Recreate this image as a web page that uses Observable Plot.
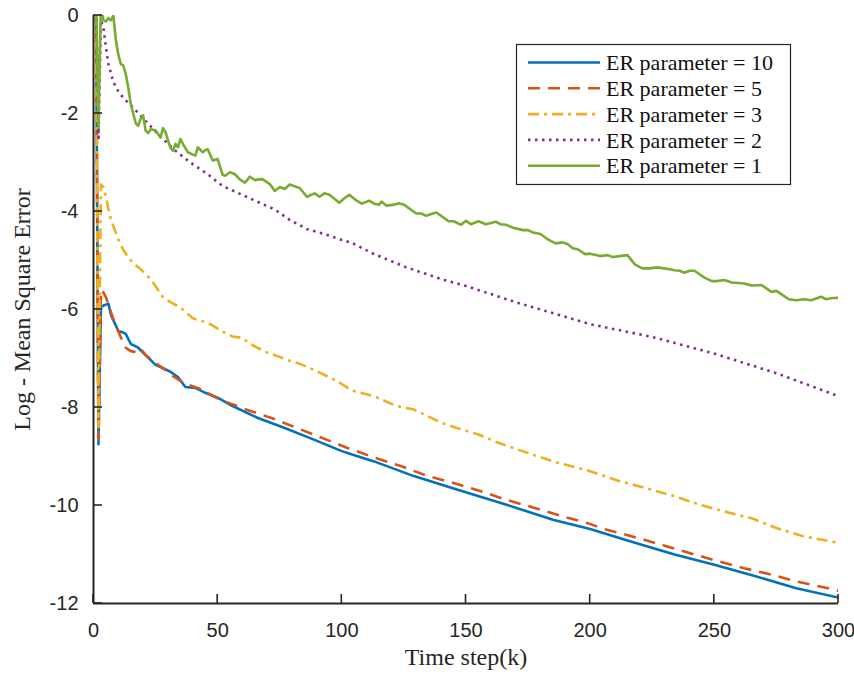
<!DOCTYPE html>
<html>
<head>
<meta charset="utf-8">
<script src="https://cdn.jsdelivr.net/npm/d3@7"></script>
<script src="https://cdn.jsdelivr.net/npm/@observablehq/plot@0.6"></script>
<style>
  html, body { margin: 0; padding: 0; background: #fff; }
  #chart { width: 854px; height: 677px; }
</style>
</head>
<body>
<div id="chart"></div>
<script>
// ---------- data ----------
const xTicks = [0, 50, 100, 150, 200, 250, 300];
const yTicks = [-12, -10, -8, -6, -4, -2, 0];
const seriesNames = ["ER parameter = 10", "ER parameter = 5", "ER parameter = 3", "ER parameter = 2", "ER parameter = 1"];
const seriesColors = ["#0072BD", "#D95319", "#EDB120", "#7E2F8E", "#77AC30"];

const er10_k = [1, 2, 3, 4, 5, 6, 7, 8, 10, 12, 13, 15, 18, 21, 25, 28, 31, 34, 37, 41, 45, 50, 56, 66, 77, 88, 100, 106, 113, 129, 146, 166, 185, 200, 216, 234, 250, 267, 283, 300];
const er10_v = [0.5, -8.75, -5.95, -5.92, -5.9, -5.88, -6.1, -6.22, -6.44, -6.47, -6.5, -6.7, -6.78, -6.93, -7.13, -7.2, -7.27, -7.38, -7.58, -7.6, -7.7, -7.8, -7.97, -8.21, -8.42, -8.64, -8.89, -8.99, -9.1, -9.4, -9.67, -9.98, -10.29, -10.48, -10.73, -11.0, -11.21, -11.45, -11.69, -11.88];

const er5_k = [1, 2, 3, 4, 5, 6, 7, 8, 10, 12, 13, 15, 17, 19, 21, 24, 28, 32, 37, 42, 51, 62, 72, 82, 92, 102, 113, 124, 134, 145, 156, 166, 177, 188, 199, 205, 219, 230, 240, 251, 262, 273, 283, 294, 300];
const er5_v = [0.5, -8.65, -5.6, -5.65, -5.75, -5.9, -6.05, -6.2, -6.45, -6.68, -6.78, -6.85, -6.87, -6.8, -6.93, -7.05, -7.2, -7.36, -7.52, -7.6, -7.84, -8.05, -8.22, -8.42, -8.62, -8.82, -9.02, -9.2, -9.39, -9.54, -9.71, -9.88, -10.04, -10.21, -10.36, -10.47, -10.66, -10.82, -10.97, -11.13, -11.28, -11.41, -11.55, -11.67, -11.74];

const er3_k = [1, 2, 3, 4, 5, 6, 7, 8, 10, 12, 14, 16, 19, 22, 24, 26, 28, 31, 35, 40, 44, 47, 52, 56, 60, 63, 66, 70, 74, 78, 82, 86, 90, 98, 104, 113, 122, 129, 140, 147, 155, 163, 175, 185, 200, 211, 222, 234, 244, 256, 265, 275, 286, 300];
const er3_v = [0.5, -8.4, -3.45, -3.5, -3.7, -3.95, -4.15, -4.3, -4.57, -4.78, -4.94, -5.05, -5.18, -5.33, -5.45, -5.6, -5.75, -5.85, -5.96, -6.18, -6.24, -6.3, -6.45, -6.55, -6.58, -6.7, -6.78, -6.88, -6.95, -7.03, -7.09, -7.17, -7.26, -7.46, -7.65, -7.77, -7.97, -8.04, -8.31, -8.43, -8.55, -8.72, -8.93, -9.1, -9.3, -9.49, -9.64, -9.81, -9.98, -10.15, -10.26, -10.46, -10.63, -10.76];

const er2_k = [1, 2, 3, 4, 5, 6, 8, 10, 12, 16, 20, 26, 32, 39, 46, 52, 59, 66, 73, 79, 86, 93, 100, 104, 113, 126, 140, 150, 170, 200, 225, 250, 275, 300];
const er2_v = [0.5, -2.5, -0.1, -0.25, -0.65, -0.99, -1.36, -1.55, -1.68, -1.88, -2.1, -2.42, -2.72, -3.0, -3.24, -3.48, -3.64, -3.8, -3.96, -4.17, -4.36, -4.46, -4.58, -4.64, -4.87, -5.14, -5.38, -5.52, -5.85, -6.3, -6.56, -6.9, -7.3, -7.77];

const er1_k = [1, 2, 3, 4, 5, 6, 7, 8, 9, 10, 11, 12, 13, 14, 15, 16, 17, 18, 19, 20, 21, 22, 23, 24, 25, 26, 27, 28, 29, 30, 31, 32, 33, 34, 35, 36, 38, 40, 41, 42, 43, 44, 45, 46, 48, 50, 52, 53, 55, 57, 59, 61, 63, 65, 66, 68, 71, 73, 75, 77, 79, 83, 86, 89, 91, 93, 95, 99, 101, 103, 106, 108, 111, 113, 115, 116, 118, 121, 123, 125, 128, 130, 132, 134, 136, 138, 140, 143, 145, 148, 150, 152, 155, 158, 162, 164, 166, 169, 173, 175, 177, 180, 183, 186, 189, 191, 193, 195, 198, 200, 204, 207, 209, 212, 215, 218, 221, 224, 227, 232, 234, 236, 238, 240, 242, 246, 249, 251, 254, 257, 262, 265, 269, 273, 275, 280, 283, 286, 289, 293, 295, 297, 300];
const er1_v = [0.5, -2.3, 0.3, -0.1, -0.12, -0.05, -0.1, 0.0, -0.5, -0.8, -0.99, -1.02, -1.2, -1.47, -1.8, -2.0, -2.2, -2.25, -2.1, -2.04, -2.35, -2.4, -2.32, -2.33, -2.34, -2.42, -2.49, -2.3, -2.38, -2.55, -2.7, -2.76, -2.62, -2.69, -2.52, -2.62, -2.79, -2.84, -2.86, -2.69, -2.74, -2.79, -2.75, -2.73, -2.96, -2.93, -3.25, -3.27, -3.2, -3.24, -3.35, -3.41, -3.29, -3.36, -3.35, -3.34, -3.44, -3.58, -3.5, -3.54, -3.45, -3.52, -3.7, -3.63, -3.7, -3.63, -3.66, -3.82, -3.73, -3.66, -3.78, -3.84, -3.78, -3.84, -3.86, -3.8, -3.88, -3.86, -3.83, -3.86, -3.97, -4.04, -4.04, -4.09, -4.05, -4.02, -4.09, -4.2, -4.2, -4.27, -4.19, -4.26, -4.2, -4.26, -4.21, -4.26, -4.27, -4.33, -4.38, -4.38, -4.43, -4.46, -4.57, -4.65, -4.63, -4.67, -4.75, -4.77, -4.87, -4.86, -4.91, -4.89, -4.93, -4.91, -4.89, -5.08, -5.16, -5.16, -5.14, -5.18, -5.2, -5.21, -5.25, -5.21, -5.21, -5.35, -5.42, -5.42, -5.4, -5.45, -5.47, -5.51, -5.5, -5.64, -5.62, -5.79, -5.81, -5.79, -5.81, -5.74, -5.79, -5.77, -5.76];

// ---------- build ----------
const toRows = (ks, vs) => ks.map((k, i) => ({k, v: vs[i]}));
const rows = [toRows(er10_k, er10_v), toRows(er5_k, er5_v), toRows(er3_k, er3_v), toRows(er2_k, er2_v), toRows(er1_k, er1_v)];
const dashes = [null, "12,8", "11,5,3,5", "2.5,4.5", null];
const axisColor = "#262626";
const serif = "'Liberation Serif', 'DejaVu Serif', serif";

const lineMarks = rows.map((r, i) => Plot.line(r, {
  x: "k", y: "v", stroke: seriesColors[i], strokeWidth: 2.6,
  strokeDasharray: dashes[i], strokeLinejoin: "round", strokeLinecap: dashes[i] ? "butt" : "round",
  clip: true
}));

const svg = Plot.plot({
  width: 854,
  height: 677,
  marginLeft: 93,
  marginRight: 16,
  marginTop: 15,
  marginBottom: 74,
  x: {domain: [0, 300]},
  y: {domain: [-12, 0]},
  style: {fontFamily: "'Liberation Sans', Arial, sans-serif", fontSize: "20px", color: axisColor, background: "#fff"},
  marks: [
    ...lineMarks,
    Plot.axisX(xTicks, {tickSize: 0, tickPadding: 19, tickFormat: d => String(d), label: null, fill: axisColor}),
    Plot.axisY(yTicks, {tickSize: 0, tickPadding: 15, tickFormat: d => String(d), label: null, fill: axisColor}),
    Plot.ruleX([0], {stroke: axisColor, strokeWidth: 2}),
    Plot.ruleY([-12], {stroke: axisColor, strokeWidth: 2}),
    Plot.text(["Time step(k)"], {frameAnchor: "bottom", dy: 54, lineAnchor: "middle", fontFamily: serif, fontSize: 24, fill: axisColor}),
    Plot.text(["Log - Mean Square Error"], {frameAnchor: "left", dx: -71, rotate: -90, lineAnchor: "middle", textAnchor: "middle", fontFamily: serif, fontSize: 24, fill: axisColor})
  ]
});

// ---------- inward tick marks, positioned by Plot's x/y scale definitions ----------
const sxDef = svg.scale("x"), syDef = svg.scale("y");
const X = d3.scaleLinear().domain(sxDef.domain).range(sxDef.range);
const Y = d3.scaleLinear().domain(syDef.domain).range(syDef.range);
const x0 = X(xTicks[0]), yBase = Y(yTicks[0]);
const tg = d3.select(svg).append("g");
xTicks.forEach(t => {
  const px = X(t);
  tg.append("path").attr("d", `M${px},${yBase}V${yBase - 9}`)
    .attr("stroke", axisColor).attr("stroke-width", 1.6).attr("fill", "none");
});
yTicks.forEach(t => {
  const py = Y(t);
  tg.append("path").attr("d", `M${x0},${py}H${x0 + 9}`)
    .attr("stroke", axisColor).attr("stroke-width", 1.6).attr("fill", "none");
});

// ---------- legend ----------
const lg = d3.select(svg).append("g").attr("transform", "translate(516,44)");
lg.append("rect").attr("x", 0.5).attr("y", 0.5).attr("width", 274).attr("height", 140)
  .attr("fill", "#fff").attr("stroke", axisColor).attr("stroke-width", 1.2);
seriesNames.forEach((name, i) => {
  const y = 18.5 + i * 25.8;
  lg.append("line").attr("x1", 12).attr("x2", 84).attr("y1", y).attr("y2", y)
    .attr("stroke", seriesColors[i]).attr("stroke-width", 2.6)
    .attr("stroke-dasharray", dashes[i]);
  lg.append("text").attr("x", 90).attr("y", y).attr("dy", "0.35em")
    .attr("text-anchor", "start")
    .attr("font-family", serif).attr("font-size", 22)
    .attr("fill", "#111").text(name);
});

document.getElementById("chart").appendChild(svg);
</script>
</body>
</html>
